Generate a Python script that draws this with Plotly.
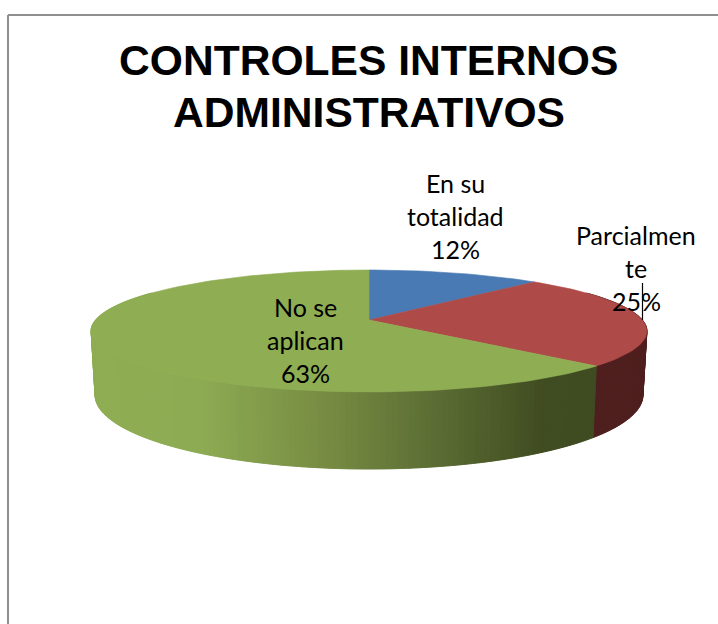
import math
import plotly.graph_objects as go

# Chart content
title_lines = ["CONTROLES INTERNOS", "ADMINISTRATIVOS"]
categories = ["En su totalidad", "Parcialmente", "No se aplican"]
values = [12, 25, 63]
label_lines = [["En su", "totalidad", "12%"], ["Parcialmen", "te", "25%"], ["No se", "aplican", "63%"]]
label_centres = [(455, 183), (636, 235), (305, 307)]
top_colors = ["#4a7ab3", "#ae4a47", "#8fad53"]

# Perspective disc: the top face and the lower rim are projected circles
CX = 369
TILT = 0.18
TOP = dict(y0=320, a=273.4, b=59.0)
BOTTOM = dict(y0=381.7, a=269.5, b=71.6)

# Side wall shading along the width of the disc (position, rgb)
green_wall = [(0.0, (143, 173, 83)), (0.2, (141, 171, 83)), (0.42, (120, 141, 67)),
              (0.62, (92, 110, 52)), (0.82, (64, 76, 33)), (1.0, (62, 74, 32))]
red_wall = [(0.0, (79, 31, 30)), (1.0, (79, 31, 30))]


def project(theta_deg, plane):
    t = math.radians(theta_deg)
    u, v = math.sin(t), math.cos(t)
    w = 1 + TILT * v
    return CX + plane["a"] * u / w, plane["y0"] - plane["b"] * v / w


def shade(stops, pos):
    for (p0, c0), (p1, c1) in zip(stops, stops[1:]):
        if pos <= p1:
            f = max(0.0, (pos - p0) / (p1 - p0))
            return "rgb(%d,%d,%d)" % tuple(round(a + (b - a) * f) for a, b in zip(c0, c1))
    return "rgb(%d,%d,%d)" % stops[-1][1]


def polygon(xs, ys, color, width=0.6):
    return go.Scatter(x=xs, y=ys, mode="lines", fill="toself", fillcolor=color,
                      line=dict(color=color, width=width), hoverinfo="skip", showlegend=False)


fig = go.Figure()

# Slice boundaries, clockwise from twelve o'clock
edges = [0.0]
for val in values:
    edges.append(edges[-1] + 360.0 * val / sum(values))

# Side wall strips: only the front of the disc shows. Red is painted
# clockwise and green anticlockwise towards the shared edge, each strip
# overlapping the previous one so no seams appear.
WALL_FROM, WALL_TO, STEP = 60.0, 300.0, 1.0


def wall_strip(t0, t1, stops):
    x0, y0 = project(t0, TOP)
    x1, y1 = project(t1, TOP)
    x2, y2 = project(t1, BOTTOM)
    x3, y3 = project(t0, BOTTOM)
    pos = ((x0 + x1) / 2 - (CX - 278)) / 556
    fig.add_trace(polygon([x0, x1, x2, x3, x0], [y0, y1, y2, y3, y0], shade(stops, pos)))


theta = WALL_FROM
while theta < edges[2]:
    wall_strip(theta, min(theta + 2 * STEP, edges[2]), red_wall)
    theta += STEP
theta = WALL_TO
while theta > edges[2]:
    wall_strip(theta, max(theta - 2 * STEP, edges[2]), green_wall)
    theta -= STEP

# Top face slices
for i, color in enumerate(top_colors):
    a0, a1 = edges[i], edges[i + 1]
    n = max(2, int((a1 - a0) / 1.5))
    rim = [project(a0 + (a1 - a0) * k / n, TOP) for k in range(n + 1)]
    xs = [CX] + [p[0] for p in rim] + [CX]
    ys = [TOP["y0"]] + [p[1] for p in rim] + [TOP["y0"]]
    fig.add_trace(polygon(xs, ys, color))

annotations = []

# Category labels, one row of text per line
LINE_GAP = 33
for lines, (lx, ly) in zip(label_lines, label_centres):
    for k, line in enumerate(lines):
        annotations.append(dict(x=lx, y=ly + k * LINE_GAP, xref="x", yref="y", text=line,
                                showarrow=False, xanchor="center", yanchor="middle",
                                font=dict(family="Lato", size=25, color="#000000")))

# Title rows
for k, line in enumerate(title_lines):
    annotations.append(dict(x=368.5, y=60 + k * 52, xref="x", yref="y", text="<b>%s</b>" % line,
                            showarrow=False, xanchor="center", yanchor="middle",
                            font=dict(family="Liberation Sans", size=42.6, color="#000000")))

shapes = [
    # Chart frame, open at the right and bottom
    dict(type="line", xref="x", yref="y", x0=8, x1=718, y0=15, y1=15, line=dict(color="#8f8f8f", width=2)),
    dict(type="line", xref="x", yref="y", x0=8, x1=8, y0=15, y1=624, line=dict(color="#8f8f8f", width=2)),
    # Leader line of the "Parcialmente" label
    dict(type="line", xref="x", yref="y", x0=642.5, x1=642.5, y0=283, y1=320, line=dict(color="#000000", width=1.2)),
]

fig.update_layout(
    width=718, height=624, margin=dict(l=0, r=0, t=0, b=0),
    paper_bgcolor="white", plot_bgcolor="white", showlegend=False,
    xaxis=dict(range=[0, 718], visible=False, fixedrange=True),
    yaxis=dict(range=[624, 0], visible=False, fixedrange=True),
    annotations=annotations, shapes=shapes,
)

fig.write_html("out.html", config=dict(displayModeBar=False))
